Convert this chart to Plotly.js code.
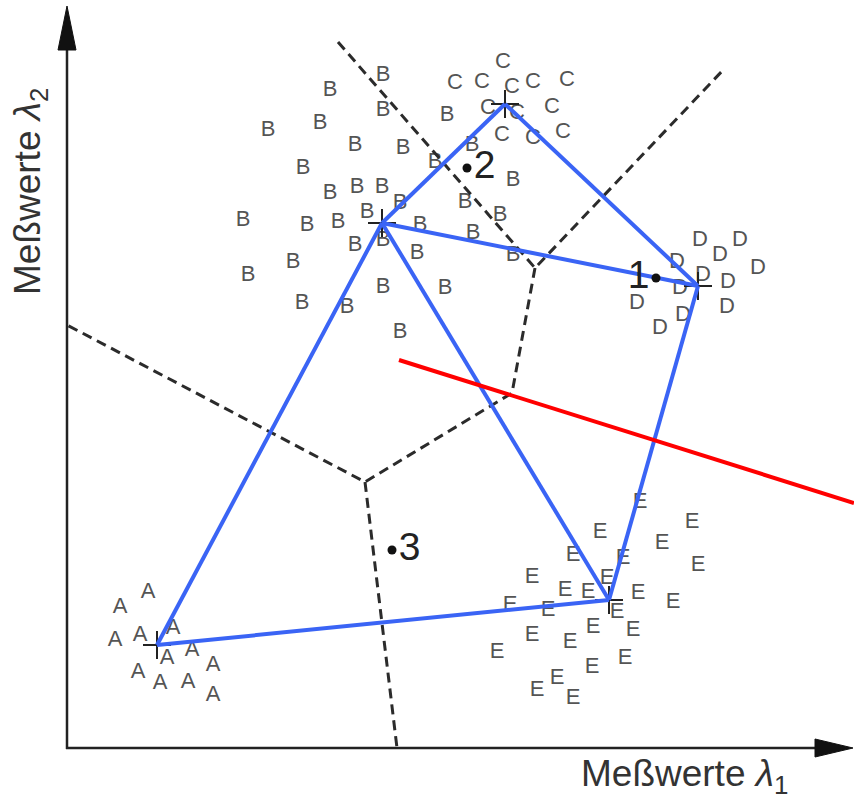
<!DOCTYPE html>
<html>
<head>
<meta charset="utf-8">
<script src="https://cdn.plot.ly/plotly-3.0.1.min.js"></script>
<style>
  html, body { margin: 0; padding: 0; background: #fff; }
  #gd { width: 854px; height: 803px; }
</style>
</head>
<body>
<div id="gd"></div>
<script>
// the picture is read in its own pixel frame: x to the right, y downwards
var clsA_x = [148, 120, 115, 140, 173, 167, 192, 213, 138, 160, 188, 213];
var clsA_y = [592, 607, 640, 635, 628, 658, 650, 665, 672, 683, 682, 695];

var clsB_x = [383, 330, 383, 447, 268, 320, 355, 403, 472, 435, 303, 513, 330, 357, 382, 465, 400, 500,
              243, 307, 338, 367, 420, 383, 355, 417, 473, 513, 293, 248, 383, 445, 302, 347, 400];
var clsB_y = [75, 90, 110, 115, 130, 123, 145, 148, 145, 162, 168, 180, 193, 187, 187, 202, 203, 215,
              220, 225, 222, 212, 225, 240, 245, 253, 233, 255, 262, 275, 287, 288, 303, 307, 332];

var clsC_x = [503, 455, 482, 512, 533, 567, 488, 517, 552, 502, 533, 563];
var clsC_y = [62, 83, 82, 87, 82, 80, 108, 113, 107, 135, 138, 132];

var clsD_x = [700, 740, 720, 758, 677, 703, 728, 680, 637, 727, 683, 660];
var clsD_y = [240, 240, 255, 268, 262, 275, 282, 288, 303, 307, 315, 328];

var clsE_x = [640, 692, 600, 662, 573, 623, 698, 532, 607, 565, 588, 638, 673, 510, 548, 617, 532,
              593, 633, 570, 497, 625, 592, 557, 537, 573];
var clsE_y = [502, 522, 532, 543, 555, 558, 565, 577, 578, 590, 592, 593, 602, 605, 610, 612, 635,
              627, 630, 642, 652, 658, 667, 678, 690, 698];

// prototypes (cluster centres) A..E
var protoNames = ["A", "B", "C", "D", "E"];
var protoX = [157, 382, 505, 698, 609];
var protoY = [645, 223, 104, 286, 600];

// Delaunay edges between prototypes (index pairs)
var edges = [[0, 1], [1, 2], [2, 3], [3, 4], [4, 0], [1, 3], [1, 4]];

// Voronoi borders (dashed)
var voroX = [338, 535, 725, null, 535, 512, 365, 67, null, 365, 397];
var voroY = [42, 268, 68, null, 268, 393, 482, 325, null, 482, 748];

// red separating line
var redX = [399, 854];
var redY = [360, 503];

// test points
var testLbl = ["1", "2", "3"];
var testX = [656, 467, 392];
var testY = [278, 168, 550];

var fam = "Liberation Sans, Arial, Helvetica, sans-serif";
var letterFont = {family: fam, size: 22, color: "#555555"};

function letters(xs, ys, ch) {
  return {
    type: "scatter", mode: "text",
    x: xs, y: ys,
    text: xs.map(function () { return ch; }),
    textposition: "middle center",
    textfont: letterFont,
    hoverinfo: "skip", showlegend: false
  };
}

var blueX = [], blueY = [];
edges.forEach(function (e) {
  blueX.push(protoX[e[0]], protoX[e[1]], null);
  blueY.push(protoY[e[0]], protoY[e[1]], null);
});

var traces = [
  letters(clsA_x, clsA_y, "A"),
  letters(clsB_x, clsB_y, "B"),
  letters(clsC_x, clsC_y, "C"),
  letters(clsD_x, clsD_y, "D"),
  letters(clsE_x, clsE_y, "E"),
  {
    type: "scatter", mode: "lines", x: voroX, y: voroY,
    line: {color: "#2b2b2b", width: 3, dash: "10px,6px"},
    hoverinfo: "skip", showlegend: false
  },
  {
    type: "scatter", mode: "markers", x: protoX, y: protoY, text: protoNames,
    marker: {symbol: "cross-thin", size: 20, line: {color: "#222", width: 2}},
    showlegend: false
  },
  {
    type: "scatter", mode: "lines", x: blueX, y: blueY,
    line: {color: "#3a64f5", width: 4},
    hoverinfo: "skip", showlegend: false
  },
  {
    type: "scatter", mode: "lines", x: redX, y: redY,
    line: {color: "#ff0000", width: 4},
    hoverinfo: "skip", showlegend: false
  },
  {
    type: "scatter", mode: "markers+text", x: testX, y: testY, text: testLbl,
    textposition: testLbl.map(function (t) { return t === "1" ? "middle left" : "middle right"; }),
    textfont: {family: fam, size: 39, color: "#222"},
    marker: {color: "#111", size: 9},
    showlegend: false
  }
];

var axisCol = "#222";
var layout = {
  width: 854, height: 803,
  margin: {l: 0, r: 0, t: 0, b: 0},
  paper_bgcolor: "#fff", plot_bgcolor: "#fff",
  showlegend: false,
  xaxis: {range: [0, 854], visible: false, fixedrange: true},
  yaxis: {range: [803, 0], visible: false, fixedrange: true},
  shapes: [
    {type: "line", xref: "x", yref: "y", x0: 67, y0: 749, x1: 67, y1: 40, line: {color: axisCol, width: 2.5}},
    {type: "line", xref: "x", yref: "y", x0: 66, y0: 748, x1: 822, y1: 748, line: {color: axisCol, width: 2.5}},
    {type: "path", xref: "x", yref: "y", path: "M 67 6 L 58 50 L 76 50 Z", fillcolor: "#111", line: {color: "#111", width: 1}},
    {type: "path", xref: "x", yref: "y", path: "M 853 748 L 815 739 L 815 757 Z", fillcolor: "#111", line: {color: "#111", width: 1}}
  ],
  annotations: [
    {
      x: 684, y: 776, xref: "x", yref: "y", showarrow: false,
      text: "Meßwerte <i>λ</i><sub>1</sub>",
      font: {family: fam, size: 37, color: "#333"}
    },
    {
      x: 30, y: 192, xref: "x", yref: "y", showarrow: false, textangle: -90,
      text: "Meßwerte <i>λ</i><sub>2</sub>",
      font: {family: fam, size: 37, color: "#333"}
    }
  ]
};

Plotly.newPlot("gd", traces, layout, {staticPlot: true, displayModeBar: false});
</script>
</body>
</html>
